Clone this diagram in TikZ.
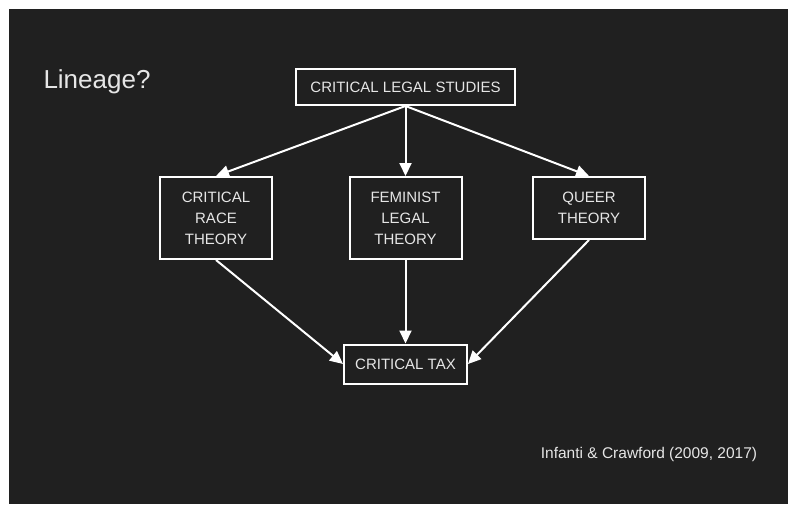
\documentclass[tikz,border=0pt]{standalone}
\usepackage{fontspec}
\setmainfont{Liberation Sans}
\usetikzlibrary{arrows.meta}
\definecolor{slidebg}{HTML}{202020}
\definecolor{slidetext}{HTML}{E6E6E6}
\begin{document}
\begin{tikzpicture}[x=1pt,y=-1pt,
  box/.style={draw=white, line width=2pt, align=center, text=slidetext, inner sep=0pt,
    font=\fontsize{15}{21}\selectfont},
  link/.style={draw=white, line width=2pt, -{Triangle[length=13pt,width=12pt]}}]
\useasboundingbox (0,0) rectangle (789,504);
\fill[white] (0,0) rectangle (789,504);
\fill[slidebg] (9,9) rectangle (788,504);
\node [text=slidetext, font=\fontsize{26}{30}\selectfont] (title) at (97,82) {Lineage?};
\node [box, minimum width=219pt, minimum height=36pt] (cls) at (405.5,87) {CRITICAL LEGAL STUDIES};
\node [box, minimum width=112pt, minimum height=82pt] (crt) at (216,218) {CRITICAL\\RACE\\THEORY};
\node [box, minimum width=112pt, minimum height=82pt] (flt) at (405.5,218) {FEMINIST\\LEGAL\\THEORY};
\node [box, minimum width=112pt, minimum height=62pt] (qt) at (589,208) {QUEER\\THEORY};
\node [box, minimum width=123pt, minimum height=39pt] (ct) at (405.5,364) {CRITICAL TAX};
\node [text=slidetext, font=\fontsize{15.5}{18}\selectfont] (cite) at (649,454) {Infanti \& Crawford (2009, 2017)};
\draw [link] (cls.south) -- (crt.north);
\draw [link] (cls.south) -- (flt.north);
\draw [link] (cls.south) -- (qt.north);
\draw [link] (crt.south) -- (ct.west);
\draw [link] (flt.south) -- (ct.north);
\draw [link] (qt.south) -- (ct.east);
\end{tikzpicture}
\end{document}
